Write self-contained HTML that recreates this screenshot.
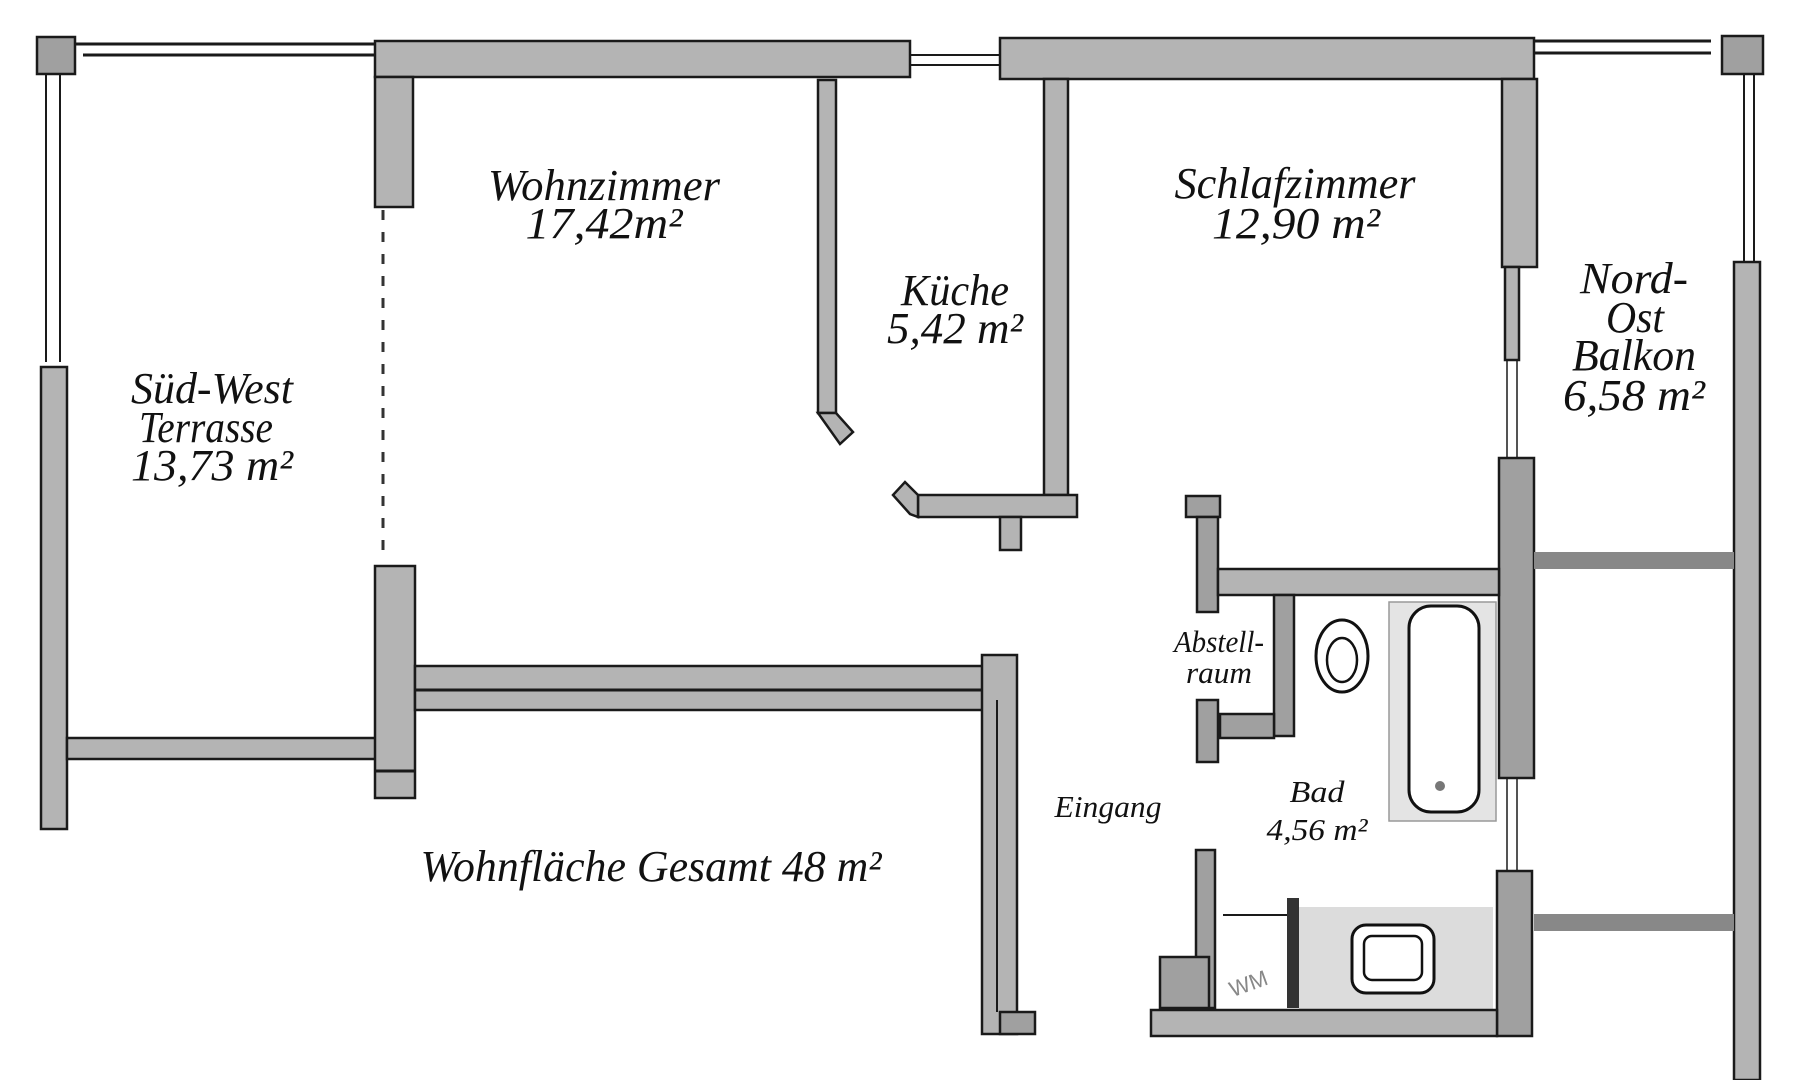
<!DOCTYPE html>
<html><head><meta charset="utf-8"><style>
html,body{margin:0;padding:0;background:#fff;}
svg{display:block;}
.w{fill:#b4b4b4;stroke:#1a1a1a;stroke-width:2.5;}
.d{fill:#a0a0a0;stroke:#1a1a1a;stroke-width:2.5;}
.ln{stroke:#1a1a1a;stroke-width:3;fill:none;}
.t{font-family:"Liberation Serif",serif;font-style:italic;fill:#111;}
</style></head><body>
<svg width="1820" height="1080" viewBox="0 0 1820 1080" xmlns="http://www.w3.org/2000/svg">
<rect class="d" x="37" y="37" width="38" height="37"/>
<line class="ln" x1="75" y1="44" x2="377" y2="44"/>
<line class="ln" x1="83" y1="55" x2="377" y2="55"/>
<line class="ln" x1="46" y1="74" x2="46" y2="362" style="stroke-width:2"/>
<line class="ln" x1="60" y1="74" x2="60" y2="362" style="stroke-width:2"/>
<rect class="w" x="41" y="367" width="26" height="462"/>
<rect class="w" x="67" y="738" width="310" height="21"/>
<rect class="w" x="375" y="41" width="535" height="36"/>
<line class="ln" x1="910" y1="55" x2="1000" y2="55" style="stroke-width:2"/>
<line class="ln" x1="910" y1="65" x2="1000" y2="65" style="stroke-width:2"/>
<rect class="w" x="375" y="77" width="38" height="130"/>
<line x1="383" y1="210" x2="383" y2="560" stroke="#333" stroke-width="3" stroke-dasharray="10,12"/>
<rect class="w" x="375" y="566" width="40" height="232"/>
<line class="ln" x1="375" y1="771" x2="415" y2="771"/>
<rect class="w" x="415" y="666" width="580" height="44"/>
<line class="ln" x1="415" y1="690" x2="985" y2="690"/>
<rect class="w" x="982" y="655" width="35" height="379"/>
<line class="ln" x1="997" y1="700" x2="997" y2="1012" style="stroke-width:2"/>
<rect class="d" x="1000" y="1012" width="35" height="22"/>
<rect class="w" x="818" y="80" width="18" height="333"/>
<polygon class="w" points="818,413 836,413 853,432 840,444"/>
<rect class="w" x="1000" y="38" width="534" height="41"/>
<line class="ln" x1="1534" y1="41" x2="1711" y2="41"/>
<line class="ln" x1="1534" y1="53" x2="1711" y2="53"/>
<rect class="d" x="1722" y="36" width="41" height="38"/>
<line class="ln" x1="1744" y1="74" x2="1744" y2="262" style="stroke-width:2"/>
<line class="ln" x1="1754" y1="74" x2="1754" y2="262" style="stroke-width:2"/>
<rect class="w" x="1734" y="262" width="26" height="818"/>
<rect class="w" x="1044" y="79" width="24" height="416"/>
<rect class="w" x="918" y="495" width="159" height="22"/>
<polygon class="w" points="918,495 905,482 893,495 910,514 918,517"/>
<rect class="w" x="1000" y="517" width="21" height="33"/>
<rect class="w" x="1502" y="79" width="35" height="188"/>
<rect class="w" x="1505" y="267" width="14" height="93"/>
<line class="ln" x1="1507" y1="360" x2="1507" y2="458" style="stroke-width:1.5"/>
<line class="ln" x1="1517" y1="360" x2="1517" y2="458" style="stroke-width:1.5"/>
<rect class="d" x="1499" y="458" width="35" height="320"/>
<line class="ln" x1="1507" y1="778" x2="1507" y2="871" style="stroke-width:1.5"/>
<line class="ln" x1="1517" y1="778" x2="1517" y2="871" style="stroke-width:1.5"/>
<rect class="d" x="1497" y="871" width="35" height="165"/>
<rect x="1534" y="552" width="200" height="17" fill="#888"/>
<rect x="1534" y="914" width="200" height="17" fill="#888"/>
<rect class="d" x="1186" y="496" width="34" height="21"/>
<rect class="d" x="1197" y="517" width="21" height="95"/>
<rect class="w" x="1218" y="569" width="281" height="26"/>
<rect class="d" x="1274" y="595" width="20" height="141"/>
<rect class="d" x="1220" y="714" width="54" height="24"/>
<rect class="d" x="1197" y="700" width="21" height="62"/>
<rect x="1389" y="602" width="107" height="219" fill="#e4e4e4" stroke="#999" stroke-width="1.5"/>
<rect x="1409" y="606" width="70" height="206" rx="22" fill="#fff" stroke="#111" stroke-width="3"/>
<circle cx="1440" cy="786" r="5" fill="#777"/>
<ellipse cx="1342" cy="656" rx="26" ry="36" fill="#fff" stroke="#111" stroke-width="3"/>
<ellipse cx="1342" cy="660" rx="15" ry="22" fill="none" stroke="#111" stroke-width="2.5"/>
<rect class="d" x="1196" y="850" width="19" height="158"/>
<line class="ln" x1="1223" y1="915" x2="1290" y2="915" style="stroke-width:2"/>
<rect x="1287" y="898" width="12" height="110" fill="#333"/>
<rect x="1299" y="907" width="194" height="103" fill="#dcdcdc"/>
<rect x="1352" y="925" width="82" height="68" rx="14" fill="#fff" stroke="#111" stroke-width="3"/>
<rect x="1364" y="936" width="58" height="44" rx="8" fill="none" stroke="#111" stroke-width="2.5"/>
<rect class="d" x="1160" y="957" width="49" height="51"/>
<rect class="w" x="1151" y="1010" width="346" height="26"/>
<text x="1226" y="990" font-family="Liberation Sans,sans-serif" font-size="22" fill="#888" transform="rotate(-20 1250 975)">WM</text>
<text class="t" x="604" y="200" font-size="44" text-anchor="middle" textLength="232" lengthAdjust="spacingAndGlyphs">Wohnzimmer</text>
<text class="t" x="604" y="238" font-size="44" text-anchor="middle" textLength="157" lengthAdjust="spacingAndGlyphs">17,42m²</text>
<text class="t" x="212" y="403" font-size="44" text-anchor="middle" textLength="162" lengthAdjust="spacingAndGlyphs">Süd-West</text>
<text class="t" x="206" y="442" font-size="44" text-anchor="middle" textLength="134" lengthAdjust="spacingAndGlyphs">Terrasse</text>
<text class="t" x="212" y="480" font-size="44" text-anchor="middle" textLength="162" lengthAdjust="spacingAndGlyphs">13,73 m²</text>
<text class="t" x="955" y="305" font-size="44" text-anchor="middle" textLength="108" lengthAdjust="spacingAndGlyphs">Küche</text>
<text class="t" x="955" y="343" font-size="44" text-anchor="middle" textLength="136" lengthAdjust="spacingAndGlyphs">5,42 m²</text>
<text class="t" x="1295" y="198" font-size="44" text-anchor="middle" textLength="241" lengthAdjust="spacingAndGlyphs">Schlafzimmer</text>
<text class="t" x="1296" y="238" font-size="44" text-anchor="middle" textLength="168" lengthAdjust="spacingAndGlyphs">12,90 m²</text>
<text class="t" x="1634" y="293" font-size="44" text-anchor="middle" textLength="108" lengthAdjust="spacingAndGlyphs">Nord-</text>
<text class="t" x="1635" y="332" font-size="44" text-anchor="middle" textLength="58" lengthAdjust="spacingAndGlyphs">Ost</text>
<text class="t" x="1634" y="370" font-size="44" text-anchor="middle" textLength="124" lengthAdjust="spacingAndGlyphs">Balkon</text>
<text class="t" x="1634" y="410" font-size="44" text-anchor="middle" textLength="142" lengthAdjust="spacingAndGlyphs">6,58 m²</text>
<text class="t" x="1219" y="652" font-size="31" text-anchor="middle" textLength="90" lengthAdjust="spacingAndGlyphs">Abstell-</text>
<text class="t" x="1219" y="683" font-size="31" text-anchor="middle" textLength="66" lengthAdjust="spacingAndGlyphs">raum</text>
<text class="t" x="1317" y="802" font-size="31" text-anchor="middle" textLength="55" lengthAdjust="spacingAndGlyphs">Bad</text>
<text class="t" x="1317" y="840" font-size="31" text-anchor="middle" textLength="101" lengthAdjust="spacingAndGlyphs">4,56 m²</text>
<text class="t" x="1108" y="817" font-size="31" text-anchor="middle" textLength="107" lengthAdjust="spacingAndGlyphs">Eingang</text>
<text class="t" x="651" y="881" font-size="44" text-anchor="middle" textLength="461" lengthAdjust="spacingAndGlyphs">Wohnfläche Gesamt 48 m²</text>
</svg>
</body></html>
